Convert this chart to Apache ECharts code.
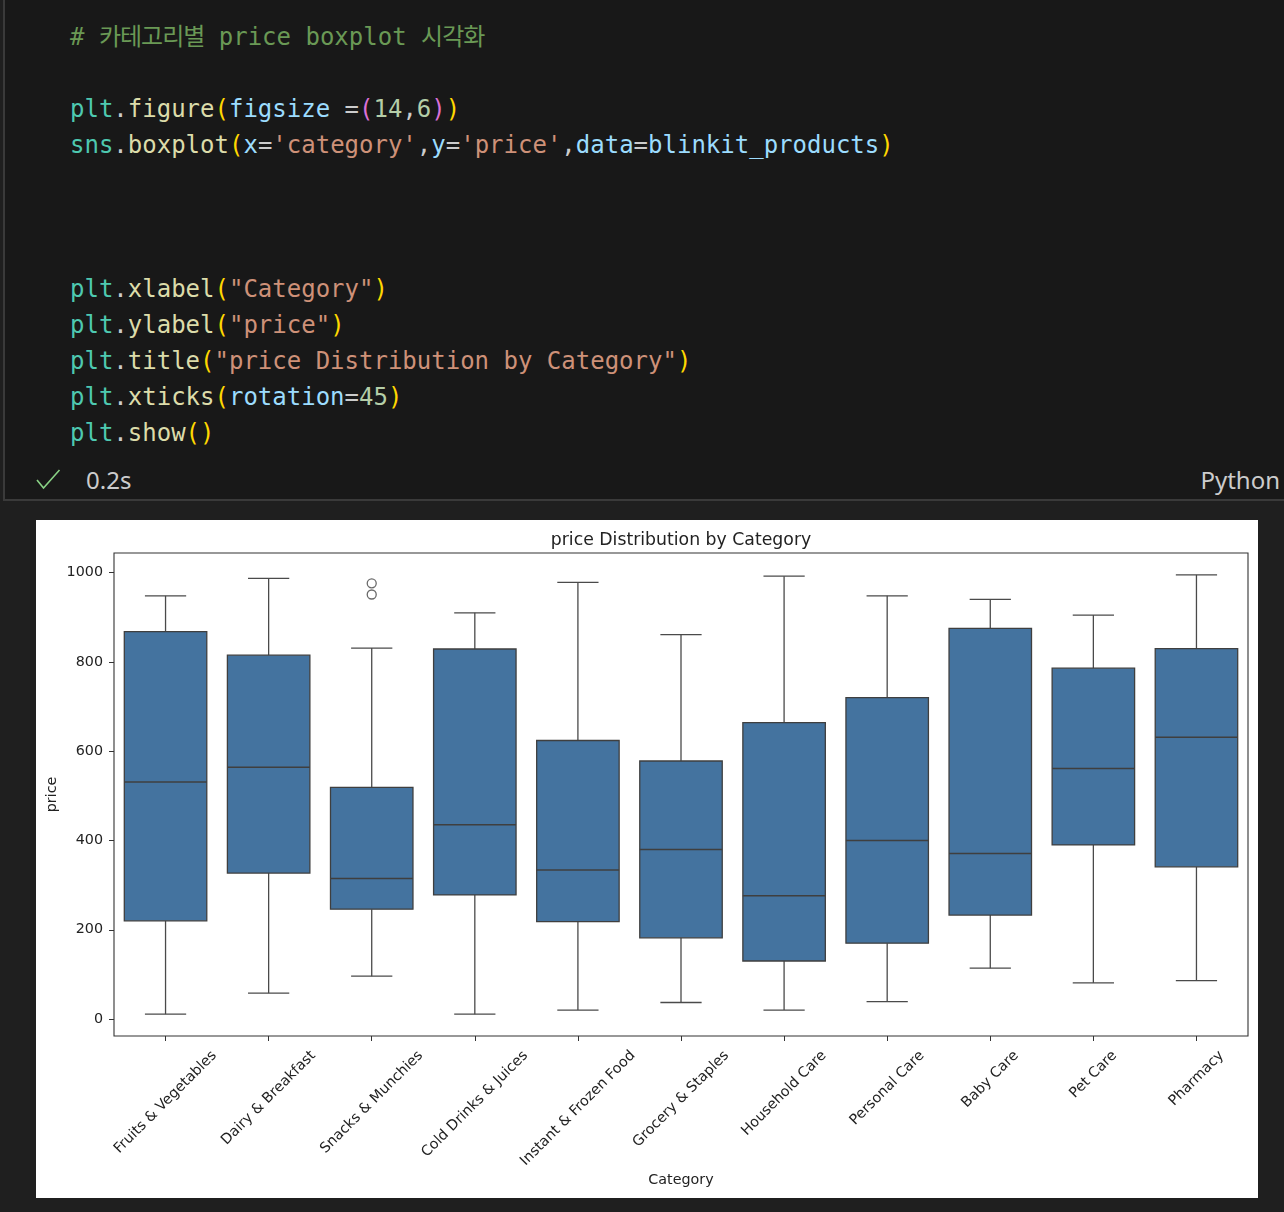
<!DOCTYPE html>
<html>
<head>
<meta charset="utf-8">
<script src="https://cdn.jsdelivr.net/npm/echarts@6/dist/echarts.min.js"></script>
<style>
  html, body { margin: 0; padding: 0; }
  body { width: 1284px; height: 1212px; background: #1f1f1f; overflow: hidden; position: relative; }
  #cell { position: absolute; left: 3px; top: 0; width: 1300px; height: 499px; background: #181818;
          border-left: 2px solid #3a3a3a; border-bottom: 2px solid #3a3a3a; }
  #code { position: absolute; left: 70px; top: 17px; margin: 0; font: 24px "DejaVu Sans Mono", monospace;
          line-height: 36px; color: #cccccc; white-space: pre; }
  .ko { font-family: "Noto Sans CJK KR", sans-serif; letter-spacing: -1px; }
  .c { color: #6A9955; } .cl { color: #4EC9B0; } .fn { color: #DCDCAA; } .b1 { color: #FFD700; }
  .b2 { color: #DA70D6; } .v { color: #9CDCFE; } .s { color: #CE9178; } .n { color: #B5CEA8; }
  #check { position: absolute; left: 0; top: 0; }
  #time { position: absolute; left: 86px; top: 463px; font: 24px "Noto Sans", sans-serif; color: #cccccc; }
  #lang { position: absolute; right: 4px; top: 463px; font: 24px "Noto Sans", sans-serif; color: #cccccc; }
  #chart { position: absolute; left: 36px; top: 520px; width: 1222px; height: 678px; background: #ffffff; }
</style>
</head>
<body>
<div id="cell"></div>
<pre id="code"><span class="c"># <span class="ko">카테고리별</span> price boxplot <span class="ko">시각화</span></span>

<span class="cl">plt</span>.<span class="fn">figure</span><span class="b1">(</span><span class="v">figsize</span> =<span class="b2">(</span><span class="n">14</span>,<span class="n">6</span><span class="b2">)</span><span class="b1">)</span>
<span class="cl">sns</span>.<span class="fn">boxplot</span><span class="b1">(</span><span class="v">x</span>=<span class="s">'category'</span>,<span class="v">y</span>=<span class="s">'price'</span>,<span class="v">data</span>=<span class="v">blinkit_products</span><span class="b1">)</span>



<span class="cl">plt</span>.<span class="fn">xlabel</span><span class="b1">(</span><span class="s">"Category"</span><span class="b1">)</span>
<span class="cl">plt</span>.<span class="fn">ylabel</span><span class="b1">(</span><span class="s">"price"</span><span class="b1">)</span>
<span class="cl">plt</span>.<span class="fn">title</span><span class="b1">(</span><span class="s">"price Distribution by Category"</span><span class="b1">)</span>
<span class="cl">plt</span>.<span class="fn">xticks</span><span class="b1">(</span><span class="v">rotation</span>=<span class="n">45</span><span class="b1">)</span>
<span class="cl">plt</span>.<span class="fn">show</span><span class="b1">()</span></pre>
<svg id="check" width="80" height="500"><polyline points="37,480 43.5,488 59.5,470" fill="none" stroke="#89D185" stroke-width="1.6"/></svg>
<div id="time">0.2s</div>
<div id="lang">Python</div>
<div id="chart"></div>
<script>
const categories = ['Fruits & Vegetables', 'Dairy & Breakfast', 'Snacks & Munchies', 'Cold Drinks & Juices',
  'Instant & Frozen Food', 'Grocery & Staples', 'Household Care', 'Personal Care', 'Baby Care', 'Pet Care', 'Pharmacy'];
const whiskerLow  = [11, 58, 96, 11, 20, 37, 20, 39, 114, 81, 86];
const q1          = [220, 327, 246, 278, 218, 182, 130, 170, 233, 390, 341];
const medians     = [531, 564, 315, 435, 334, 380, 276, 400, 371, 561, 631];
const q3          = [868, 815, 519, 829, 624, 578, 664, 720, 875, 786, 830];
const whiskerHigh = [948, 987, 831, 910, 978, 861, 992, 948, 940, 905, 995];
const outlierCategory = [2, 2];
const outlierValues = [976, 951];
const yTicks = [0, 200, 400, 600, 800, 1000];
const yMin = -38, yMax = 1044;

const boxData = categories.map((c, i) => [i, whiskerLow[i], q1[i], medians[i], q3[i], whiskerHigh[i]]);
const outlierData = outlierCategory.map((c, i) => [c, outlierValues[i]]);

const BOX = '#44739f', EDGE = '#3f3f3f', WHISK = '#4a4a4a';
const FS = 14.3;
const LABEL_FONT = FS + 'px "DejaVu Sans"';
const mctx = document.createElement('canvas').getContext('2d');
mctx.font = LABEL_FONT;

const chart = echarts.init(document.getElementById('chart'), null, { renderer: 'canvas' });
chart.setOption({
  animation: false,
  backgroundColor: '#ffffff',
  textStyle: { fontFamily: 'DejaVu Sans' },
  title: {
    text: 'price Distribution by Category', left: 640, top: 7, textAlign: 'center',
    textStyle: { fontFamily: 'DejaVu Sans', fontSize: 17.3, fontWeight: 'normal', color: '#222' }
  },
  grid: { left: 78, right: 10, top: 33, bottom: 162, show: true, borderColor: '#333', borderWidth: 1.1,
          backgroundColor: 'transparent', containLabel: false, outerBoundsMode: 'none' },
  xAxis: {
    type: 'category', data: categories, boundaryGap: true,
    axisLine: { show: false, onZero: false },
    axisTick: { show: true, alignWithLabel: true, interval: 0, length: 5, lineStyle: { color: '#333', width: 1 } },
    axisLabel: { show: false, interval: 0 },
    name: 'Category', nameLocation: 'middle', nameGap: 137, nameMoveOverlap: false,
    nameTextStyle: { fontFamily: 'DejaVu Sans', fontSize: FS, color: '#222' }
  },
  yAxis: {
    type: 'value', min: yMin, max: yMax,
    axisLine: { show: false, onZero: false },
    splitLine: { show: false },
    axisTick: { show: true, length: 5, customValues: yTicks, lineStyle: { color: '#333', width: 1 } },
    axisLabel: { customValues: yTicks, margin: 11, fontFamily: 'DejaVu Sans', fontSize: FS, color: '#222',
                 formatter: function (v) { return String(v); } },
    name: 'price', nameLocation: 'middle', nameGap: 55, nameMoveOverlap: false,
    nameTextStyle: { fontFamily: 'DejaVu Sans', fontSize: FS, color: '#222' }
  },
  series: [
    {
      type: 'custom', name: 'price', data: boxData, clip: false,
      encode: { x: 0, y: [1, 2, 3, 4, 5] },
      renderItem: function (params, api) {
        const i = api.value(0);
        const lo = api.coord([i, api.value(1)]);
        const b1 = api.coord([i, api.value(2)]);
        const md = api.coord([i, api.value(3)]);
        const b3 = api.coord([i, api.value(4)]);
        const hi = api.coord([i, api.value(5)]);
        const band = api.size([1, 0])[0];
        const bw = band * 0.8, cw = band * 0.4;
        const x = lo[0];
        const ls = { stroke: WHISK, lineWidth: 1.3 };
        return {
          type: 'group',
          children: [
            { type: 'line', shape: { x1: x, y1: b1[1], x2: x, y2: lo[1] }, style: ls },
            { type: 'line', shape: { x1: x - cw / 2, y1: lo[1], x2: x + cw / 2, y2: lo[1] }, style: ls },
            { type: 'line', shape: { x1: x, y1: b3[1], x2: x, y2: hi[1] }, style: ls },
            { type: 'line', shape: { x1: x - cw / 2, y1: hi[1], x2: x + cw / 2, y2: hi[1] }, style: ls },
            { type: 'rect', shape: { x: x - bw / 2, y: b3[1], width: bw, height: b1[1] - b3[1] },
              style: { fill: BOX, stroke: EDGE, lineWidth: 1.3 } },
            { type: 'line', shape: { x1: x - bw / 2, y1: md[1], x2: x + bw / 2, y2: md[1] },
              style: { stroke: EDGE, lineWidth: 1.5 } }
          ]
        };
      }
    },
    {
      type: 'scatter', data: outlierData, symbol: 'circle', symbolSize: 9,
      itemStyle: { color: 'rgba(0,0,0,0)', borderColor: '#444', borderWidth: 1.3 }
    },
    {
      type: 'custom', name: 'labels', data: categories.map((c, i) => [i]), clip: false, silent: true,
      encode: { x: 0 },
      renderItem: function (params, api) {
        const i = api.value(0);
        const p = api.coord([i, yMin]);
        const text = categories[i];
        const w = mctx.measureText(text).width;
        const h = 15;
        const cy = p[1] + 12 + (w + h) / (2 * Math.SQRT2);
        return {
          type: 'text', x: p[0], y: cy, rotation: Math.PI / 4,
          style: { text: text, font: LABEL_FONT, fill: '#222', align: 'center', verticalAlign: 'middle' }
        };
      }
    }
  ]
});
</script>
</body>
</html>
